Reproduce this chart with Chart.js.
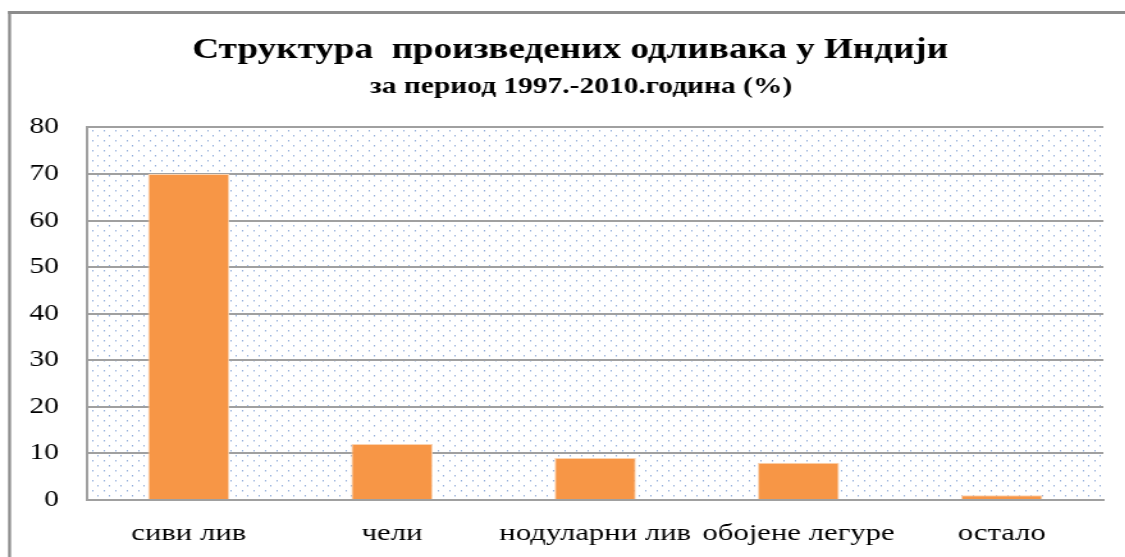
<!DOCTYPE html>
<html>
<head>
<meta charset="utf-8">
<script src="https://cdn.jsdelivr.net/npm/chart.js@4/dist/chart.umd.min.js"></script>
<style>
html,body{margin:0;padding:0;background:#fff;overflow:hidden;}
#wrap{width:1125px;height:557px;position:relative;overflow:hidden;}
#c{position:absolute;left:0;top:0;transform:scaleX(1.28);transform-origin:0 0;}
</style>
</head>
<body>
<div id="wrap"><canvas id="c" width="879" height="557" style="width:879px;height:557px"></canvas></div>
<script>
const categories = ['сиви лив', 'чели', 'нодуларни лив', 'обојене легуре', 'остало'];
const values = [70, 12, 9, 8, 1];
const yTicks = [0, 10, 20, 30, 40, 50, 60, 70, 80];
const titleText = '    Структура  произведених одливака у Индији';
const subtitleText = '        за период 1997.-2010.година (%)';

function makePattern(ctx) {
  const p = document.createElement('canvas');
  p.width = 9; p.height = 10;
  const g = p.getContext('2d');
  g.fillStyle = '#ffffff';
  g.fillRect(0, 0, 9, 10);
  g.fillStyle = '#92aedb';
  g.fillRect(0, 0, 1, 1.5);
  g.fillRect(4, 5, 1, 1.5);
  return ctx.createPattern(p, 'repeat');
}

const framePlugin = {
  id: 'frame',
  beforeDraw(chart) {
    const ctx = chart.ctx;
    const a = chart.chartArea;
    ctx.save();
    ctx.fillStyle = makePattern(ctx);
    ctx.fillRect(a.left, a.top, a.right - a.left, a.bottom - a.top);
    ctx.fillStyle = '#8c8c8c';
    ctx.fillRect(6.3, 11, 2.3, 546);
    ctx.fillRect(6.3, 11, 900, 3);
    ctx.restore();
  }
};

new Chart(document.getElementById('c'), {
  type: 'bar',
  data: {
    labels: categories,
    datasets: [{
      data: values,
      backgroundColor: '#F79646',
      borderColor: '#fbd3b0',
      borderWidth: 1,
      categoryPercentage: 1,
      barPercentage: 0.4
    }]
  },
  options: {
    responsive: false,
    animation: false,
    devicePixelRatio: 1,
    layout: { padding: { left: 0, right: 17, top: 0, bottom: 0 } },
    plugins: {
      legend: { display: false },
      tooltip: { enabled: false },
      title: {
        display: true,
        text: titleText,
        color: '#000',
        font: { family: 'Liberation Serif', size: 29, weight: 'bold' },
        padding: { top: 33, bottom: 5 }
      },
      subtitle: {
        display: true,
        text: subtitleText,
        color: '#000',
        font: { family: 'Liberation Serif', size: 23, weight: 'bold' },
        padding: { top: 0, bottom: 27 }
      }
    },
    scales: {
      x: {
        grid: { display: false, drawTicks: false },
        border: { display: true, color: '#a0a0a0', width: 2 },
        ticks: {
          color: '#000',
          font: { family: 'Liberation Serif', size: 24 },
          padding: 19,
          maxRotation: 0,
          autoSkip: false
        },
        afterFit(axis) { axis.height = 57; }
      },
      y: {
        min: 0, max: 80,
        afterBuildTicks(axis) { axis.ticks = yTicks.map(v => ({ value: v })); },
        grid: { color: '#a0a0a0', lineWidth: 2, drawTicks: false },
        border: { display: true, color: '#a0a0a0', width: 2 },
        ticks: {
          color: '#000',
          font: { family: 'Liberation Serif', size: 23 },
          padding: 22
        },
        afterFit(axis) { axis.width = 68; }
      }
    }
  },
  plugins: [framePlugin]
});
</script>
</body>
</html>
